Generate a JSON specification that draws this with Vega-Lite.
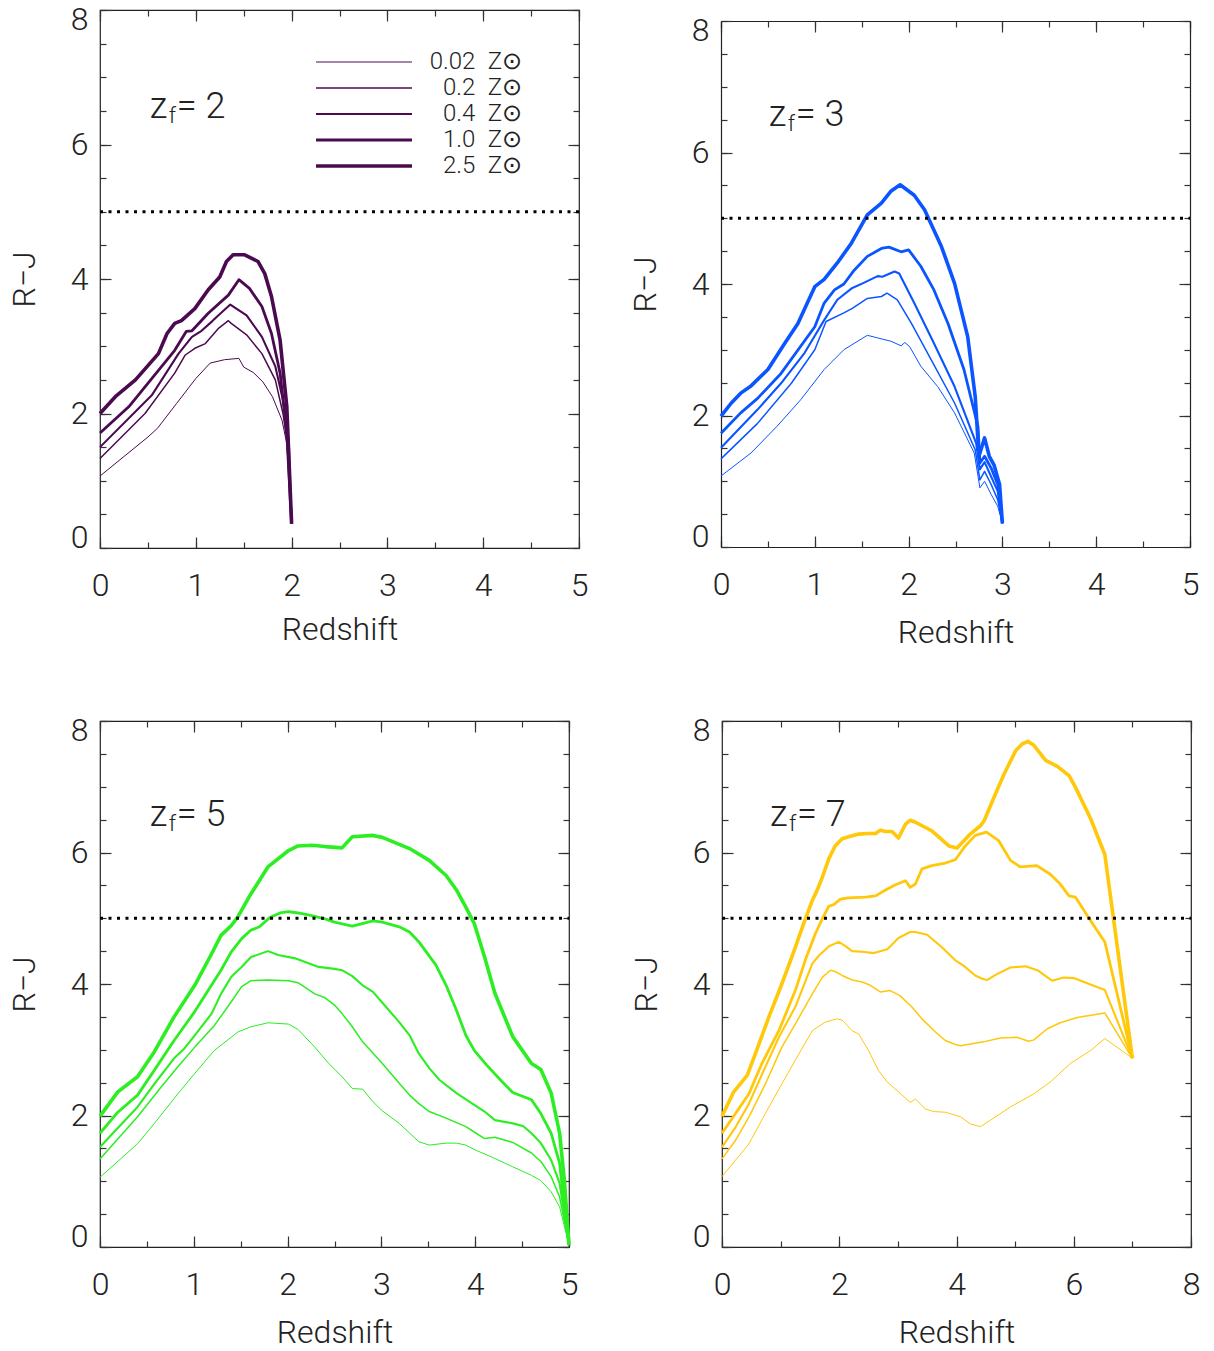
{
  "$schema": "https://vega.github.io/schema/vega-lite/v6.json",
  "background": "white",
  "padding": {"left": 7, "top": 2, "right": 5, "bottom": 0},
  "config": {
    "view": {"stroke": "#222", "strokeWidth": 1.2},
    "font": "Roboto",
    "axis": {"domain": false, "grid": false, "tickColor": "#333", "tickWidth": 1.2, "domainColor": "#222", "domainWidth": 1.2, "labelFont": "Roboto", "labelFontSize": 32, "labelFontWeight": 300, "labelColor": "#222", "titleFont": "Roboto", "titleFontSize": 32, "titleFontWeight": 300, "titleColor": "#222", "labelOverlap": false},
    "axisX": {"labelFlush": false},
    "axisY": {"labelFlushOffset": 6},
    "text": {"font": "Roboto", "fontWeight": 300, "color": "#222"}
  },
  "datasets": {
    "p2": [
      {"m":"0.02","z":0,"r":1.07},{"m":"0.02","z":0.25,"r":1.36},{"m":"0.02","z":0.5,"r":1.65},{"m":"0.02","z":0.6,"r":1.78},{"m":"0.02","z":0.8,"r":2.15},{"m":"0.02","z":1.0,"r":2.52},{"m":"0.02","z":1.15,"r":2.75},{"m":"0.02","z":1.3,"r":2.8},{"m":"0.02","z":1.45,"r":2.82},{"m":"0.02","z":1.5,"r":2.69},{"m":"0.02","z":1.6,"r":2.61},{"m":"0.02","z":1.7,"r":2.47},{"m":"0.02","z":1.8,"r":2.25},{"m":"0.02","z":1.9,"r":1.9},{"m":"0.02","z":1.95,"r":1.55},{"m":"0.02","z":2.0,"r":0.36},
      {"m":"0.2","z":0,"r":1.33},{"m":"0.2","z":0.47,"r":2.0},{"m":"0.2","z":0.78,"r":2.6},{"m":"0.2","z":0.89,"r":2.87},{"m":"0.2","z":0.99,"r":2.97},{"m":"0.2","z":1.1,"r":3.04},{"m":"0.2","z":1.24,"r":3.27},{"m":"0.2","z":1.34,"r":3.38},{"m":"0.2","z":1.37,"r":3.34},{"m":"0.2","z":1.53,"r":3.17},{"m":"0.2","z":1.69,"r":2.89},{"m":"0.2","z":1.83,"r":2.5},{"m":"0.2","z":1.91,"r":2.0},{"m":"0.2","z":1.97,"r":1.41},{"m":"0.2","z":2.0,"r":0.36},
      {"m":"0.4","z":0,"r":1.5},{"m":"0.4","z":0.54,"r":2.27},{"m":"0.4","z":0.82,"r":2.89},{"m":"0.4","z":0.96,"r":3.14},{"m":"0.4","z":1.06,"r":3.23},{"m":"0.4","z":1.17,"r":3.37},{"m":"0.4","z":1.22,"r":3.44},{"m":"0.4","z":1.36,"r":3.62},{"m":"0.4","z":1.53,"r":3.46},{"m":"0.4","z":1.69,"r":3.14},{"m":"0.4","z":1.83,"r":2.7},{"m":"0.4","z":1.91,"r":2.2},{"m":"0.4","z":1.97,"r":1.6},{"m":"0.4","z":2.0,"r":0.36},
      {"m":"1.0","z":0,"r":1.71},{"m":"1.0","z":0.3,"r":2.1},{"m":"1.0","z":0.54,"r":2.52},{"m":"1.0","z":0.78,"r":2.94},{"m":"1.0","z":0.9,"r":3.22},{"m":"1.0","z":0.96,"r":3.23},{"m":"1.0","z":1.13,"r":3.49},{"m":"1.0","z":1.34,"r":3.76},{"m":"1.0","z":1.45,"r":3.99},{"m":"1.0","z":1.56,"r":3.86},{"m":"1.0","z":1.69,"r":3.59},{"m":"1.0","z":1.79,"r":3.19},{"m":"1.0","z":1.88,"r":2.6},{"m":"1.0","z":1.95,"r":1.7},{"m":"1.0","z":2.0,"r":0.36},
      {"m":"2.5","z":0,"r":2.0},{"m":"2.5","z":0.16,"r":2.25},{"m":"2.5","z":0.37,"r":2.5},{"m":"2.5","z":0.61,"r":2.89},{"m":"2.5","z":0.7,"r":3.19},{"m":"2.5","z":0.78,"r":3.34},{"m":"2.5","z":0.85,"r":3.38},{"m":"2.5","z":0.99,"r":3.56},{"m":"2.5","z":1.13,"r":3.84},{"m":"2.5","z":1.25,"r":4.03},{"m":"2.5","z":1.32,"r":4.26},{"m":"2.5","z":1.39,"r":4.36},{"m":"2.5","z":1.51,"r":4.36},{"m":"2.5","z":1.65,"r":4.26},{"m":"2.5","z":1.72,"r":4.08},{"m":"2.5","z":1.79,"r":3.74},{"m":"2.5","z":1.88,"r":3.09},{"m":"2.5","z":1.95,"r":2.1},{"m":"2.5","z":2.0,"r":0.36}
    ],
    "p3": [
      {"m":"0.02","z":0,"r":1.08},{"m":"0.02","z":0.32,"r":1.43},{"m":"0.02","z":0.6,"r":1.84},{"m":"0.02","z":0.85,"r":2.24},{"m":"0.02","z":1.1,"r":2.7},{"m":"0.02","z":1.31,"r":3.0},{"m":"0.02","z":1.56,"r":3.22},{"m":"0.02","z":1.67,"r":3.18},{"m":"0.02","z":1.81,"r":3.13},{"m":"0.02","z":1.92,"r":3.06},{"m":"0.02","z":1.96,"r":3.11},{"m":"0.02","z":2.01,"r":3.05},{"m":"0.02","z":2.13,"r":2.75},{"m":"0.02","z":2.31,"r":2.44},{"m":"0.02","z":2.49,"r":2.04},{"m":"0.02","z":2.7,"r":1.43},{"m":"0.02","z":2.76,"r":0.9},{"m":"0.02","z":2.81,"r":1.0},{"m":"0.02","z":2.88,"r":0.8},{"m":"0.02","z":2.95,"r":0.62},{"m":"0.02","z":3.0,"r":0.36},
      {"m":"0.2","z":0,"r":1.34},{"m":"0.2","z":0.39,"r":1.88},{"m":"0.2","z":0.75,"r":2.49},{"m":"0.2","z":1.0,"r":3.0},{"m":"0.2","z":1.12,"r":3.43},{"m":"0.2","z":1.31,"r":3.56},{"m":"0.2","z":1.4,"r":3.63},{"m":"0.2","z":1.56,"r":3.78},{"m":"0.2","z":1.71,"r":3.81},{"m":"0.2","z":1.77,"r":3.86},{"m":"0.2","z":1.88,"r":3.76},{"m":"0.2","z":2.03,"r":3.4},{"m":"0.2","z":2.24,"r":2.85},{"m":"0.2","z":2.49,"r":2.19},{"m":"0.2","z":2.71,"r":1.48},{"m":"0.2","z":2.76,"r":1.02},{"m":"0.2","z":2.81,"r":1.15},{"m":"0.2","z":2.88,"r":0.95},{"m":"0.2","z":2.95,"r":0.72},{"m":"0.2","z":3.0,"r":0.36},
      {"m":"0.4","z":0,"r":1.51},{"m":"0.4","z":0.39,"r":2.09},{"m":"0.4","z":0.64,"r":2.49},{"m":"0.4","z":0.89,"r":2.95},{"m":"0.4","z":1.1,"r":3.45},{"m":"0.4","z":1.24,"r":3.76},{"m":"0.4","z":1.4,"r":3.94},{"m":"0.4","z":1.51,"r":4.01},{"m":"0.4","z":1.67,"r":4.12},{"m":"0.4","z":1.72,"r":4.11},{"m":"0.4","z":1.85,"r":4.19},{"m":"0.4","z":1.9,"r":4.16},{"m":"0.4","z":2.06,"r":3.71},{"m":"0.4","z":2.27,"r":3.1},{"m":"0.4","z":2.49,"r":2.44},{"m":"0.4","z":2.72,"r":1.58},{"m":"0.4","z":2.76,"r":1.18},{"m":"0.4","z":2.81,"r":1.29},{"m":"0.4","z":2.88,"r":1.07},{"m":"0.4","z":2.95,"r":0.85},{"m":"0.4","z":3.0,"r":0.36},
      {"m":"1.0","z":0,"r":1.73},{"m":"1.0","z":0.21,"r":2.04},{"m":"1.0","z":0.39,"r":2.26},{"m":"1.0","z":0.64,"r":2.64},{"m":"1.0","z":1.0,"r":3.35},{"m":"1.0","z":1.1,"r":3.71},{"m":"1.0","z":1.21,"r":3.91},{"m":"1.0","z":1.31,"r":4.0},{"m":"1.0","z":1.42,"r":4.21},{"m":"1.0","z":1.56,"r":4.42},{"m":"1.0","z":1.71,"r":4.54},{"m":"1.0","z":1.79,"r":4.56},{"m":"1.0","z":1.92,"r":4.49},{"m":"1.0","z":2.0,"r":4.52},{"m":"1.0","z":2.13,"r":4.27},{"m":"1.0","z":2.27,"r":3.91},{"m":"1.0","z":2.42,"r":3.4},{"m":"1.0","z":2.59,"r":2.7},{"m":"1.0","z":2.74,"r":1.83},{"m":"1.0","z":2.76,"r":1.28},{"m":"1.0","z":2.81,"r":1.38},{"m":"1.0","z":2.88,"r":1.2},{"m":"1.0","z":2.95,"r":0.95},{"m":"1.0","z":3.0,"r":0.36},
      {"m":"2.5","z":0,"r":1.99},{"m":"2.5","z":0.11,"r":2.19},{"m":"2.5","z":0.21,"r":2.34},{"m":"2.5","z":0.32,"r":2.45},{"m":"2.5","z":0.5,"r":2.7},{"m":"2.5","z":0.68,"r":3.1},{"m":"2.5","z":0.82,"r":3.4},{"m":"2.5","z":0.92,"r":3.71},{"m":"2.5","z":1.0,"r":3.96},{"m":"2.5","z":1.1,"r":4.07},{"m":"2.5","z":1.24,"r":4.32},{"m":"2.5","z":1.39,"r":4.62},{"m":"2.5","z":1.56,"r":5.05},{"m":"2.5","z":1.71,"r":5.23},{"m":"2.5","z":1.81,"r":5.41},{"m":"2.5","z":1.91,"r":5.51},{"m":"2.5","z":2.06,"r":5.35},{"m":"2.5","z":2.17,"r":5.13},{"m":"2.5","z":2.35,"r":4.57},{"m":"2.5","z":2.49,"r":4.01},{"m":"2.5","z":2.63,"r":3.2},{"m":"2.5","z":2.71,"r":2.29},{"m":"2.5","z":2.75,"r":1.38},{"m":"2.5","z":2.81,"r":1.66},{"m":"2.5","z":2.86,"r":1.38},{"m":"2.5","z":2.91,"r":1.25},{"m":"2.5","z":2.97,"r":0.95},{"m":"2.5","z":3.0,"r":0.36}
    ],
    "p5": [
      {"m":"0.02","z":0,"r":1.06},{"m":"0.02","z":0.4,"r":1.57},{"m":"0.02","z":0.58,"r":1.88},{"m":"0.02","z":0.83,"r":2.33},{"m":"0.02","z":1.01,"r":2.64},{"m":"0.02","z":1.22,"r":2.99},{"m":"0.02","z":1.47,"r":3.27},{"m":"0.02","z":1.61,"r":3.35},{"m":"0.02","z":1.79,"r":3.41},{"m":"0.02","z":2.01,"r":3.39},{"m":"0.02","z":2.11,"r":3.31},{"m":"0.02","z":2.29,"r":3.04},{"m":"0.02","z":2.44,"r":2.79},{"m":"0.02","z":2.58,"r":2.59},{"m":"0.02","z":2.69,"r":2.41},{"m":"0.02","z":2.8,"r":2.4},{"m":"0.02","z":2.91,"r":2.21},{"m":"0.02","z":3.01,"r":2.07},{"m":"0.02","z":3.19,"r":1.88},{"m":"0.02","z":3.4,"r":1.6},{"m":"0.02","z":3.51,"r":1.55},{"m":"0.02","z":3.69,"r":1.58},{"m":"0.02","z":3.8,"r":1.58},{"m":"0.02","z":3.9,"r":1.55},{"m":"0.02","z":4.01,"r":1.47},{"m":"0.02","z":4.19,"r":1.36},{"m":"0.02","z":4.4,"r":1.22},{"m":"0.02","z":4.6,"r":1.09},{"m":"0.02","z":4.7,"r":1.01},{"m":"0.02","z":4.81,"r":0.84},{"m":"0.02","z":4.9,"r":0.61},{"m":"0.02","z":5.0,"r":0.03},
      {"m":"0.2","z":0,"r":1.34},{"m":"0.2","z":0.4,"r":1.98},{"m":"0.2","z":0.65,"r":2.43},{"m":"0.2","z":0.83,"r":2.74},{"m":"0.2","z":1.01,"r":3.04},{"m":"0.2","z":1.22,"r":3.37},{"m":"0.2","z":1.4,"r":3.73},{"m":"0.2","z":1.51,"r":3.96},{"m":"0.2","z":1.61,"r":4.05},{"m":"0.2","z":1.79,"r":4.06},{"m":"0.2","z":2.01,"r":4.05},{"m":"0.2","z":2.11,"r":4.02},{"m":"0.2","z":2.29,"r":3.85},{"m":"0.2","z":2.4,"r":3.79},{"m":"0.2","z":2.5,"r":3.68},{"m":"0.2","z":2.58,"r":3.55},{"m":"0.2","z":2.69,"r":3.35},{"m":"0.2","z":2.8,"r":3.12},{"m":"0.2","z":3.01,"r":2.79},{"m":"0.2","z":3.19,"r":2.49},{"m":"0.2","z":3.3,"r":2.31},{"m":"0.2","z":3.4,"r":2.18},{"m":"0.2","z":3.51,"r":2.06},{"m":"0.2","z":3.69,"r":1.96},{"m":"0.2","z":3.9,"r":1.83},{"m":"0.2","z":4.01,"r":1.73},{"m":"0.2","z":4.1,"r":1.65},{"m":"0.2","z":4.21,"r":1.67},{"m":"0.2","z":4.4,"r":1.59},{"m":"0.2","z":4.6,"r":1.43},{"m":"0.2","z":4.7,"r":1.3},{"m":"0.2","z":4.81,"r":1.07},{"m":"0.2","z":4.9,"r":0.76},{"m":"0.2","z":5.0,"r":0.03},
      {"m":"0.4","z":0,"r":1.52},{"m":"0.4","z":0.4,"r":2.13},{"m":"0.4","z":0.58,"r":2.48},{"m":"0.4","z":0.79,"r":2.87},{"m":"0.4","z":0.9,"r":3.02},{"m":"0.4","z":1.01,"r":3.22},{"m":"0.4","z":1.19,"r":3.55},{"m":"0.4","z":1.29,"r":3.85},{"m":"0.4","z":1.4,"r":4.11},{"m":"0.4","z":1.51,"r":4.26},{"m":"0.4","z":1.61,"r":4.41},{"m":"0.4","z":1.79,"r":4.5},{"m":"0.4","z":1.9,"r":4.44},{"m":"0.4","z":2.08,"r":4.39},{"m":"0.4","z":2.18,"r":4.34},{"m":"0.4","z":2.33,"r":4.26},{"m":"0.4","z":2.5,"r":4.23},{"m":"0.4","z":2.58,"r":4.21},{"m":"0.4","z":2.69,"r":4.12},{"m":"0.4","z":2.8,"r":3.98},{"m":"0.4","z":2.91,"r":3.88},{"m":"0.4","z":3.05,"r":3.65},{"m":"0.4","z":3.19,"r":3.42},{"m":"0.4","z":3.3,"r":3.22},{"m":"0.4","z":3.4,"r":2.94},{"m":"0.4","z":3.51,"r":2.72},{"m":"0.4","z":3.62,"r":2.54},{"m":"0.4","z":3.8,"r":2.34},{"m":"0.4","z":3.97,"r":2.18},{"m":"0.4","z":4.1,"r":2.06},{"m":"0.4","z":4.21,"r":1.93},{"m":"0.4","z":4.4,"r":1.88},{"m":"0.4","z":4.51,"r":1.84},{"m":"0.4","z":4.6,"r":1.73},{"m":"0.4","z":4.7,"r":1.58},{"m":"0.4","z":4.81,"r":1.32},{"m":"0.4","z":4.9,"r":0.97},{"m":"0.4","z":5.0,"r":0.03},
      {"m":"1.0","z":0,"r":1.73},{"m":"1.0","z":0.19,"r":2.05},{"m":"1.0","z":0.4,"r":2.31},{"m":"1.0","z":0.58,"r":2.69},{"m":"1.0","z":0.79,"r":3.14},{"m":"1.0","z":1.01,"r":3.58},{"m":"1.0","z":1.29,"r":4.21},{"m":"1.0","z":1.4,"r":4.49},{"m":"1.0","z":1.51,"r":4.69},{"m":"1.0","z":1.61,"r":4.82},{"m":"1.0","z":1.7,"r":4.87},{"m":"1.0","z":1.81,"r":5.01},{"m":"1.0","z":1.92,"r":5.08},{"m":"1.0","z":2.01,"r":5.1},{"m":"1.0","z":2.11,"r":5.08},{"m":"1.0","z":2.22,"r":5.05},{"m":"1.0","z":2.4,"r":4.99},{"m":"1.0","z":2.5,"r":4.94},{"m":"1.0","z":2.69,"r":4.88},{"m":"1.0","z":2.91,"r":4.96},{"m":"1.0","z":3.01,"r":4.94},{"m":"1.0","z":3.19,"r":4.87},{"m":"1.0","z":3.3,"r":4.79},{"m":"1.0","z":3.4,"r":4.64},{"m":"1.0","z":3.58,"r":4.29},{"m":"1.0","z":3.69,"r":3.98},{"m":"1.0","z":3.8,"r":3.6},{"m":"1.0","z":3.9,"r":3.22},{"m":"1.0","z":3.99,"r":2.99},{"m":"1.0","z":4.12,"r":2.77},{"m":"1.0","z":4.29,"r":2.51},{"m":"1.0","z":4.4,"r":2.35},{"m":"1.0","z":4.6,"r":2.24},{"m":"1.0","z":4.7,"r":2.03},{"m":"1.0","z":4.81,"r":1.73},{"m":"1.0","z":4.9,"r":1.27},{"m":"1.0","z":5.0,"r":0.03},
      {"m":"2.5","z":0,"r":1.99},{"m":"2.5","z":0.19,"r":2.36},{"m":"2.5","z":0.4,"r":2.59},{"m":"2.5","z":0.58,"r":2.97},{"m":"2.5","z":0.79,"r":3.5},{"m":"2.5","z":1.01,"r":3.98},{"m":"2.5","z":1.19,"r":4.46},{"m":"2.5","z":1.29,"r":4.74},{"m":"2.5","z":1.4,"r":4.89},{"m":"2.5","z":1.47,"r":5.02},{"m":"2.5","z":1.6,"r":5.35},{"m":"2.5","z":1.79,"r":5.78},{"m":"2.5","z":2.01,"r":6.03},{"m":"2.5","z":2.11,"r":6.1},{"m":"2.5","z":2.26,"r":6.11},{"m":"2.5","z":2.4,"r":6.09},{"m":"2.5","z":2.58,"r":6.07},{"m":"2.5","z":2.69,"r":6.24},{"m":"2.5","z":2.91,"r":6.26},{"m":"2.5","z":3.01,"r":6.23},{"m":"2.5","z":3.3,"r":6.06},{"m":"2.5","z":3.51,"r":5.88},{"m":"2.5","z":3.69,"r":5.65},{"m":"2.5","z":3.8,"r":5.43},{"m":"2.5","z":3.9,"r":5.17},{"m":"2.5","z":3.99,"r":4.92},{"m":"2.5","z":4.1,"r":4.41},{"m":"2.5","z":4.21,"r":3.86},{"m":"2.5","z":4.4,"r":3.2},{"m":"2.5","z":4.6,"r":2.79},{"m":"2.5","z":4.7,"r":2.7},{"m":"2.5","z":4.81,"r":2.34},{"m":"2.5","z":4.9,"r":1.73},{"m":"2.5","z":4.95,"r":1.02},{"m":"2.5","z":5.0,"r":0.03}
    ],
    "p7": [
      {"m":"0.02","z":0,"r":1.07},{"m":"0.02","z":0.23,"r":1.32},{"m":"0.02","z":0.46,"r":1.57},{"m":"0.02","z":0.74,"r":2.03},{"m":"0.02","z":1.02,"r":2.48},{"m":"0.02","z":1.25,"r":2.84},{"m":"0.02","z":1.54,"r":3.29},{"m":"0.02","z":1.76,"r":3.42},{"m":"0.02","z":1.96,"r":3.47},{"m":"0.02","z":2.05,"r":3.45},{"m":"0.02","z":2.22,"r":3.29},{"m":"0.02","z":2.33,"r":3.24},{"m":"0.02","z":2.5,"r":2.99},{"m":"0.02","z":2.67,"r":2.68},{"m":"0.02","z":2.82,"r":2.51},{"m":"0.02","z":3.01,"r":2.36},{"m":"0.02","z":3.21,"r":2.2},{"m":"0.02","z":3.3,"r":2.25},{"m":"0.02","z":3.47,"r":2.1},{"m":"0.02","z":3.61,"r":2.06},{"m":"0.02","z":3.81,"r":2.05},{"m":"0.02","z":4.07,"r":1.98},{"m":"0.02","z":4.24,"r":1.87},{"m":"0.02","z":4.41,"r":1.83},{"m":"0.02","z":4.58,"r":1.93},{"m":"0.02","z":4.92,"r":2.13},{"m":"0.02","z":5.32,"r":2.33},{"m":"0.02","z":5.6,"r":2.51},{"m":"0.02","z":5.94,"r":2.79},{"m":"0.02","z":6.29,"r":2.99},{"m":"0.02","z":6.53,"r":3.17},{"m":"0.02","z":7.0,"r":2.87},
      {"m":"0.2","z":0,"r":1.34},{"m":"0.2","z":0.23,"r":1.62},{"m":"0.2","z":0.46,"r":1.98},{"m":"0.2","z":0.74,"r":2.48},{"m":"0.2","z":1.02,"r":3.04},{"m":"0.2","z":1.25,"r":3.39},{"m":"0.2","z":1.54,"r":3.85},{"m":"0.2","z":1.71,"r":4.1},{"m":"0.2","z":1.85,"r":4.21},{"m":"0.2","z":1.93,"r":4.19},{"m":"0.2","z":2.05,"r":4.13},{"m":"0.2","z":2.22,"r":4.06},{"m":"0.2","z":2.39,"r":4.03},{"m":"0.2","z":2.53,"r":3.98},{"m":"0.2","z":2.7,"r":3.88},{"m":"0.2","z":2.87,"r":3.9},{"m":"0.2","z":3.04,"r":3.82},{"m":"0.2","z":3.24,"r":3.65},{"m":"0.2","z":3.41,"r":3.47},{"m":"0.2","z":3.64,"r":3.27},{"m":"0.2","z":3.81,"r":3.14},{"m":"0.2","z":3.98,"r":3.08},{"m":"0.2","z":4.07,"r":3.06},{"m":"0.2","z":4.46,"r":3.12},{"m":"0.2","z":4.75,"r":3.18},{"m":"0.2","z":5.03,"r":3.19},{"m":"0.2","z":5.23,"r":3.13},{"m":"0.2","z":5.32,"r":3.15},{"m":"0.2","z":5.55,"r":3.32},{"m":"0.2","z":5.77,"r":3.41},{"m":"0.2","z":6.06,"r":3.49},{"m":"0.2","z":6.53,"r":3.56},{"m":"0.2","z":7.0,"r":2.87},
      {"m":"0.4","z":0,"r":1.52},{"m":"0.4","z":0.23,"r":1.82},{"m":"0.4","z":0.46,"r":2.18},{"m":"0.4","z":0.74,"r":2.74},{"m":"0.4","z":0.97,"r":3.19},{"m":"0.4","z":1.25,"r":3.65},{"m":"0.4","z":1.54,"r":4.31},{"m":"0.4","z":1.65,"r":4.43},{"m":"0.4","z":1.82,"r":4.57},{"m":"0.4","z":1.99,"r":4.64},{"m":"0.4","z":2.1,"r":4.58},{"m":"0.4","z":2.22,"r":4.5},{"m":"0.4","z":2.39,"r":4.49},{"m":"0.4","z":2.59,"r":4.47},{"m":"0.4","z":2.82,"r":4.53},{"m":"0.4","z":3.01,"r":4.7},{"m":"0.4","z":3.21,"r":4.79},{"m":"0.4","z":3.3,"r":4.79},{"m":"0.4","z":3.5,"r":4.75},{"m":"0.4","z":3.75,"r":4.56},{"m":"0.4","z":3.98,"r":4.36},{"m":"0.4","z":4.12,"r":4.28},{"m":"0.4","z":4.32,"r":4.13},{"m":"0.4","z":4.44,"r":4.08},{"m":"0.4","z":4.52,"r":4.06},{"m":"0.4","z":4.69,"r":4.15},{"m":"0.4","z":4.92,"r":4.25},{"m":"0.4","z":5.18,"r":4.27},{"m":"0.4","z":5.4,"r":4.2},{"m":"0.4","z":5.55,"r":4.1},{"m":"0.4","z":5.63,"r":4.05},{"m":"0.4","z":5.83,"r":4.1},{"m":"0.4","z":6.0,"r":4.09},{"m":"0.4","z":6.23,"r":4.01},{"m":"0.4","z":6.53,"r":3.91},{"m":"0.4","z":7.0,"r":2.87},
      {"m":"1.0","z":0,"r":1.73},{"m":"1.0","z":0.23,"r":2.03},{"m":"1.0","z":0.46,"r":2.33},{"m":"1.0","z":0.68,"r":2.79},{"m":"1.0","z":0.97,"r":3.29},{"m":"1.0","z":1.25,"r":3.9},{"m":"1.0","z":1.42,"r":4.36},{"m":"1.0","z":1.59,"r":4.76},{"m":"1.0","z":1.71,"r":4.99},{"m":"1.0","z":1.82,"r":5.18},{"m":"1.0","z":1.91,"r":5.21},{"m":"1.0","z":2.02,"r":5.29},{"m":"1.0","z":2.16,"r":5.31},{"m":"1.0","z":2.45,"r":5.32},{"m":"1.0","z":2.62,"r":5.34},{"m":"1.0","z":2.79,"r":5.43},{"m":"1.0","z":2.96,"r":5.51},{"m":"1.0","z":3.13,"r":5.57},{"m":"1.0","z":3.21,"r":5.47},{"m":"1.0","z":3.3,"r":5.52},{"m":"1.0","z":3.41,"r":5.75},{"m":"1.0","z":3.58,"r":5.8},{"m":"1.0","z":3.81,"r":5.84},{"m":"1.0","z":3.98,"r":5.89},{"m":"1.0","z":4.15,"r":6.1},{"m":"1.0","z":4.32,"r":6.26},{"m":"1.0","z":4.51,"r":6.31},{"m":"1.0","z":4.72,"r":6.18},{"m":"1.0","z":4.92,"r":5.88},{"m":"1.0","z":5.09,"r":5.78},{"m":"1.0","z":5.37,"r":5.8},{"m":"1.0","z":5.6,"r":5.67},{"m":"1.0","z":5.77,"r":5.52},{"m":"1.0","z":5.92,"r":5.34},{"m":"1.0","z":6.03,"r":5.32},{"m":"1.0","z":6.23,"r":5.04},{"m":"1.0","z":6.53,"r":4.64},{"m":"1.0","z":7.0,"r":2.87},
      {"m":"2.5","z":0,"r":1.99},{"m":"2.5","z":0.2,"r":2.36},{"m":"2.5","z":0.43,"r":2.61},{"m":"2.5","z":0.57,"r":2.94},{"m":"2.5","z":0.8,"r":3.5},{"m":"2.5","z":1.02,"r":4.0},{"m":"2.5","z":1.22,"r":4.48},{"m":"2.5","z":1.37,"r":4.86},{"m":"2.5","z":1.54,"r":5.27},{"m":"2.5","z":1.62,"r":5.42},{"m":"2.5","z":1.71,"r":5.62},{"m":"2.5","z":1.82,"r":5.9},{"m":"2.5","z":1.93,"r":6.1},{"m":"2.5","z":2.05,"r":6.21},{"m":"2.5","z":2.16,"r":6.24},{"m":"2.5","z":2.33,"r":6.28},{"m":"2.5","z":2.5,"r":6.29},{"m":"2.5","z":2.62,"r":6.29},{"m":"2.5","z":2.7,"r":6.34},{"m":"2.5","z":2.79,"r":6.32},{"m":"2.5","z":2.9,"r":6.32},{"m":"2.5","z":3.01,"r":6.22},{"m":"2.5","z":3.13,"r":6.43},{"m":"2.5","z":3.21,"r":6.49},{"m":"2.5","z":3.3,"r":6.46},{"m":"2.5","z":3.47,"r":6.38},{"m":"2.5","z":3.58,"r":6.33},{"m":"2.5","z":3.73,"r":6.21},{"m":"2.5","z":3.87,"r":6.1},{"m":"2.5","z":4.01,"r":6.07},{"m":"2.5","z":4.21,"r":6.26},{"m":"2.5","z":4.41,"r":6.41},{"m":"2.5","z":4.47,"r":6.48},{"m":"2.5","z":4.64,"r":6.84},{"m":"2.5","z":4.81,"r":7.19},{"m":"2.5","z":5.01,"r":7.55},{"m":"2.5","z":5.12,"r":7.65},{"m":"2.5","z":5.22,"r":7.69},{"m":"2.5","z":5.32,"r":7.63},{"m":"2.5","z":5.52,"r":7.4},{"m":"2.5","z":5.72,"r":7.31},{"m":"2.5","z":5.92,"r":7.17},{"m":"2.5","z":6.03,"r":6.99},{"m":"2.5","z":6.29,"r":6.51},{"m":"2.5","z":6.53,"r":5.97},{"m":"2.5","z":7.0,"r":2.87}
    ]
  },
  "spacing": 65,
  "resolve": {"scale": {"strokeWidth": "independent"}, "legend": {"strokeWidth": "independent"}},
  "vconcat": [
    {
      "spacing": 40,
      "resolve": {"scale": {"strokeWidth": "independent"}, "legend": {"strokeWidth": "independent"}},
      "hconcat": [
        {
          "width": 479, "height": 538,
          "data": {"name": "p2"},
          "resolve": {"axis": {"x": "independent", "y": "independent"}},
          "layer": [
            {"mark": {"type": "line", "color": "#4b0a50", "strokeJoin": "round"},
             "encoding": {
               "x": {"field": "z", "type": "quantitative", "scale": {"domain": [0, 5], "nice": false, "zero": false}, "axis": {"orient": "bottom", "values": [0,1,2,3,4,5], "tickSize": -11, "labelPadding": 33, "labelFlush": false, "title": "Redshift", "titlePadding": 13}},
               "y": {"field": "r", "type": "quantitative", "scale": {"domain": [0, 8], "nice": false, "zero": false}, "axis": {"orient": "left", "values": [0,2,4,6,8], "tickSize": -11, "labelPadding": 23, "labelFlush": true, "labelFlushOffset": 6, "title": "R−J", "titlePadding": 29}},
               "strokeWidth": {"field": "m", "type": "ordinal", "scale": {"type": "ordinal", "domain": ["0.02","0.2","0.4","1.0","2.5"], "range": [1, 1.5, 2.1, 2.8, 3.6]},
                 "legend": {"orient": "none", "legendX": 252, "legendY": 40, "padding": 0, "title": null, "symbolType": "M-4.8,0H4.8", "symbolSize": 400, "symbolStrokeColor": "#4b0a50", "symbolFillColor": "transparent", "labelFont": "Roboto", "labelFontSize": 24, "labelFontWeight": 300, "labelColor": "#222", "labelAlign": "right", "labelOffset": 146, "rowPadding": 2, "labelExpr": "datum.label + '\u2002Z⊙'"}}
             }},
            {"data": {"values": [{}]}, "mark": {"type": "rule", "color": "#000", "strokeWidth": 3, "strokeDash": [3, 5.5]},
             "encoding": {
               "x": {"datum": 0, "type": "quantitative", "scale": {"domain": [0, 5], "nice": false, "zero": false}, "axis": {"orient": "top", "values": [0,1,2,3,4,5], "tickSize": -11, "labels": false, "title": null}},
               "x2": {"datum": 5},
               "y": {"datum": 5, "type": "quantitative", "scale": {"domain": [0, 8], "nice": false, "zero": false}, "axis": {"orient": "right", "values": [0,2,4,6,8], "tickSize": -11, "labels": false, "title": null}}
             }},
            {"data": {"values": [{}]}, "mark": {"type": "text", "text": "z", "fontSize": 36, "align": "left", "baseline": "alphabetic"},
             "encoding": {
               "x": {"datum": 0.52, "type": "quantitative", "axis": {"orient": "bottom", "values": [0,0.5,1,1.5,2,2.5,3,3.5,4,4.5,5], "tickSize": -6, "labels": false, "title": null}},
               "y": {"datum": 6.4, "type": "quantitative", "axis": {"orient": "left", "values": [0,0.5,1,1.5,2,2.5,3,3.5,4,4.5,5,5.5,6,6.5,7,7.5,8], "tickSize": -6, "labels": false, "title": null}}
             }},
            {"data": {"values": [{}]}, "mark": {"type": "text", "text": "f", "fontSize": 22, "align": "left", "baseline": "alphabetic", "dx": 19, "dy": 5},
             "encoding": {
               "x": {"datum": 0.52, "type": "quantitative", "axis": {"orient": "top", "values": [0,0.5,1,1.5,2,2.5,3,3.5,4,4.5,5], "tickSize": -6, "labels": false, "title": null}},
               "y": {"datum": 6.4, "type": "quantitative", "axis": {"orient": "right", "values": [0,0.5,1,1.5,2,2.5,3,3.5,4,4.5,5,5.5,6,6.5,7,7.5,8], "tickSize": -6, "labels": false, "title": null}}
             }},
            {"data": {"values": [{}]}, "mark": {"type": "text", "text": "= 2", "fontSize": 36, "align": "left", "baseline": "alphabetic", "dx": 27},
             "encoding": {
               "x": {"datum": 0.52, "type": "quantitative", "axis": null},
               "y": {"datum": 6.4, "type": "quantitative", "axis": null}
             }}
          ]
        },
        {
          "width": 469, "height": 537,
          "view": {"stroke": null},
          "data": {"name": "p3"},
          "resolve": {"axis": {"x": "independent", "y": "independent"}},
          "layer": [
            {"mark": {"type": "line", "color": "#0a55ff", "strokeJoin": "round"},
             "encoding": {
               "x": {"field": "z", "type": "quantitative", "scale": {"domain": [0, 5], "nice": false, "zero": false}, "axis": {"orient": "bottom", "domain": true, "values": [0,1,2,3,4,5], "tickSize": -11, "labelPadding": 33, "labelFlush": false, "title": "Redshift", "titlePadding": 17}},
               "y": {"field": "r", "type": "quantitative", "scale": {"domain": [0, 8], "nice": false, "zero": false, "range": [537, 11]}, "axis": {"orient": "left", "domain": true, "values": [0,2,4,6,8], "tickSize": -11, "labelPadding": 23, "labelFlush": true, "labelFlushOffset": 6, "title": "R−J", "titlePadding": 29}},
               "strokeWidth": {"field": "m", "type": "ordinal", "scale": {"type": "ordinal", "domain": ["0.02","0.2","0.4","1.0","2.5"], "range": [1, 1.5, 2.1, 2.8, 3.6]}, "legend": null}
             }},
            {"data": {"values": [{}]}, "mark": {"type": "rule", "color": "#000", "strokeWidth": 3, "strokeDash": [3, 5.5]},
             "encoding": {
               "x": {"datum": 0, "type": "quantitative", "scale": {"domain": [0, 5], "nice": false, "zero": false}, "axis": {"orient": "top", "domain": true, "offset": -11, "values": [0,1,2,3,4,5], "tickSize": -11, "labels": false, "title": null}},
               "x2": {"datum": 5},
               "y": {"datum": 5, "type": "quantitative", "scale": {"domain": [0, 8], "nice": false, "zero": false, "range": [537, 11]}, "axis": {"orient": "right", "domain": true, "values": [0,2,4,6,8], "tickSize": -11, "labels": false, "title": null}}
             }},
            {"data": {"values": [{}]}, "mark": {"type": "text", "text": "z", "fontSize": 36, "align": "left", "baseline": "alphabetic"},
             "encoding": {
               "x": {"datum": 0.51, "type": "quantitative", "axis": {"orient": "bottom", "values": [0,0.5,1,1.5,2,2.5,3,3.5,4,4.5,5], "tickSize": -6, "labels": false, "title": null}},
               "y": {"datum": 6.4, "type": "quantitative", "axis": {"orient": "left", "values": [0,0.5,1,1.5,2,2.5,3,3.5,4,4.5,5,5.5,6,6.5,7,7.5,8], "tickSize": -6, "labels": false, "title": null}}
             }},
            {"data": {"values": [{}]}, "mark": {"type": "text", "text": "f", "fontSize": 22, "align": "left", "baseline": "alphabetic", "dx": 19, "dy": 5},
             "encoding": {
               "x": {"datum": 0.51, "type": "quantitative", "axis": {"orient": "top", "offset": -11, "values": [0,0.5,1,1.5,2,2.5,3,3.5,4,4.5,5], "tickSize": -6, "labels": false, "title": null}},
               "y": {"datum": 6.4, "type": "quantitative", "axis": {"orient": "right", "values": [0,0.5,1,1.5,2,2.5,3,3.5,4,4.5,5,5.5,6,6.5,7,7.5,8], "tickSize": -6, "labels": false, "title": null}}
             }},
            {"data": {"values": [{}]}, "mark": {"type": "text", "text": "= 3", "fontSize": 36, "align": "left", "baseline": "alphabetic", "dx": 27},
             "encoding": {
               "x": {"datum": 0.51, "type": "quantitative", "axis": null},
               "y": {"datum": 6.4, "type": "quantitative", "axis": null}
             }}
          ]
        }
      ]
    },
    {
      "spacing": 50,
      "resolve": {"scale": {"strokeWidth": "independent"}, "legend": {"strokeWidth": "independent"}},
      "hconcat": [
        {
          "width": 469, "height": 526,
          "data": {"name": "p5"},
          "resolve": {"axis": {"x": "independent", "y": "independent"}},
          "layer": [
            {"mark": {"type": "line", "color": "#2cee22", "strokeJoin": "round"},
             "encoding": {
               "x": {"field": "z", "type": "quantitative", "scale": {"domain": [0, 5], "nice": false, "zero": false}, "axis": {"orient": "bottom", "values": [0,1,2,3,4,5], "tickSize": -11, "labelPadding": 33, "labelFlush": false, "title": "Redshift", "titlePadding": 17}},
               "y": {"field": "r", "type": "quantitative", "scale": {"domain": [0, 8], "nice": false, "zero": false}, "axis": {"orient": "left", "values": [0,2,4,6,8], "tickSize": -11, "labelPadding": 23, "labelFlush": true, "labelFlushOffset": 6, "title": "R−J", "titlePadding": 29}},
               "strokeWidth": {"field": "m", "type": "ordinal", "scale": {"type": "ordinal", "domain": ["0.02","0.2","0.4","1.0","2.5"], "range": [1, 1.5, 2.1, 2.8, 3.6]}, "legend": null}
             }},
            {"data": {"values": [{}]}, "mark": {"type": "rule", "color": "#000", "strokeWidth": 3, "strokeDash": [3, 5.5]},
             "encoding": {
               "x": {"datum": 0, "type": "quantitative", "scale": {"domain": [0, 5], "nice": false, "zero": false}, "axis": {"orient": "top", "values": [0,1,2,3,4,5], "tickSize": -11, "labels": false, "title": null}},
               "x2": {"datum": 5},
               "y": {"datum": 5, "type": "quantitative", "scale": {"domain": [0, 8], "nice": false, "zero": false}, "axis": {"orient": "right", "values": [0,2,4,6,8], "tickSize": -11, "labels": false, "title": null}}
             }},
            {"data": {"values": [{}]}, "mark": {"type": "text", "text": "z", "fontSize": 36, "align": "left", "baseline": "alphabetic"},
             "encoding": {
               "x": {"datum": 0.53, "type": "quantitative", "axis": {"orient": "bottom", "values": [0,0.5,1,1.5,2,2.5,3,3.5,4,4.5,5], "tickSize": -6, "labels": false, "title": null}},
               "y": {"datum": 6.4, "type": "quantitative", "axis": {"orient": "left", "values": [0,0.5,1,1.5,2,2.5,3,3.5,4,4.5,5,5.5,6,6.5,7,7.5,8], "tickSize": -6, "labels": false, "title": null}}
             }},
            {"data": {"values": [{}]}, "mark": {"type": "text", "text": "f", "fontSize": 22, "align": "left", "baseline": "alphabetic", "dx": 19, "dy": 5},
             "encoding": {
               "x": {"datum": 0.53, "type": "quantitative", "axis": {"orient": "top", "values": [0,0.5,1,1.5,2,2.5,3,3.5,4,4.5,5], "tickSize": -6, "labels": false, "title": null}},
               "y": {"datum": 6.4, "type": "quantitative", "axis": {"orient": "right", "values": [0,0.5,1,1.5,2,2.5,3,3.5,4,4.5,5,5.5,6,6.5,7,7.5,8], "tickSize": -6, "labels": false, "title": null}}
             }},
            {"data": {"values": [{}]}, "mark": {"type": "text", "text": "= 5", "fontSize": 36, "align": "left", "baseline": "alphabetic", "dx": 27},
             "encoding": {
               "x": {"datum": 0.53, "type": "quantitative", "axis": null},
               "y": {"datum": 6.4, "type": "quantitative", "axis": null}
             }}
          ]
        },
        {
          "width": 469, "height": 526,
          "data": {"name": "p7"},
          "resolve": {"axis": {"x": "independent", "y": "independent"}},
          "layer": [
            {"mark": {"type": "line", "color": "#ffc80a", "strokeJoin": "round"},
             "encoding": {
               "x": {"field": "z", "type": "quantitative", "scale": {"domain": [0, 8], "nice": false, "zero": false}, "axis": {"orient": "bottom", "values": [0,2,4,6,8], "tickSize": -11, "labelPadding": 33, "labelFlush": false, "title": "Redshift", "titlePadding": 17}},
               "y": {"field": "r", "type": "quantitative", "scale": {"domain": [0, 8], "nice": false, "zero": false}, "axis": {"orient": "left", "values": [0,2,4,6,8], "tickSize": -11, "labelPadding": 23, "labelFlush": true, "labelFlushOffset": 6, "title": "R−J", "titlePadding": 29}},
               "strokeWidth": {"field": "m", "type": "ordinal", "scale": {"type": "ordinal", "domain": ["0.02","0.2","0.4","1.0","2.5"], "range": [1, 1.5, 2.1, 2.8, 3.6]}, "legend": null}
             }},
            {"data": {"values": [{}]}, "mark": {"type": "rule", "color": "#000", "strokeWidth": 3, "strokeDash": [3, 5.5]},
             "encoding": {
               "x": {"datum": 0, "type": "quantitative", "scale": {"domain": [0, 8], "nice": false, "zero": false}, "axis": {"orient": "top", "values": [0,2,4,6,8], "tickSize": -11, "labels": false, "title": null}},
               "x2": {"datum": 8},
               "y": {"datum": 5, "type": "quantitative", "scale": {"domain": [0, 8], "nice": false, "zero": false}, "axis": {"orient": "right", "values": [0,2,4,6,8], "tickSize": -11, "labels": false, "title": null}}
             }},
            {"data": {"values": [{}]}, "mark": {"type": "text", "text": "z", "fontSize": 36, "align": "left", "baseline": "alphabetic"},
             "encoding": {
               "x": {"datum": 0.82, "type": "quantitative", "axis": {"orient": "bottom", "values": [0,1,2,3,4,5,6,7,8], "tickSize": -6, "labels": false, "title": null}},
               "y": {"datum": 6.4, "type": "quantitative", "axis": {"orient": "left", "values": [0,0.5,1,1.5,2,2.5,3,3.5,4,4.5,5,5.5,6,6.5,7,7.5,8], "tickSize": -6, "labels": false, "title": null}}
             }},
            {"data": {"values": [{}]}, "mark": {"type": "text", "text": "f", "fontSize": 22, "align": "left", "baseline": "alphabetic", "dx": 19, "dy": 5},
             "encoding": {
               "x": {"datum": 0.82, "type": "quantitative", "axis": {"orient": "top", "values": [0,1,2,3,4,5,6,7,8], "tickSize": -6, "labels": false, "title": null}},
               "y": {"datum": 6.4, "type": "quantitative", "axis": {"orient": "right", "values": [0,0.5,1,1.5,2,2.5,3,3.5,4,4.5,5,5.5,6,6.5,7,7.5,8], "tickSize": -6, "labels": false, "title": null}}
             }},
            {"data": {"values": [{}]}, "mark": {"type": "text", "text": "= 7", "fontSize": 36, "align": "left", "baseline": "alphabetic", "dx": 27},
             "encoding": {
               "x": {"datum": 0.82, "type": "quantitative", "axis": null},
               "y": {"datum": 6.4, "type": "quantitative", "axis": null}
             }}
          ]
        }
      ]
    }
  ]
}
